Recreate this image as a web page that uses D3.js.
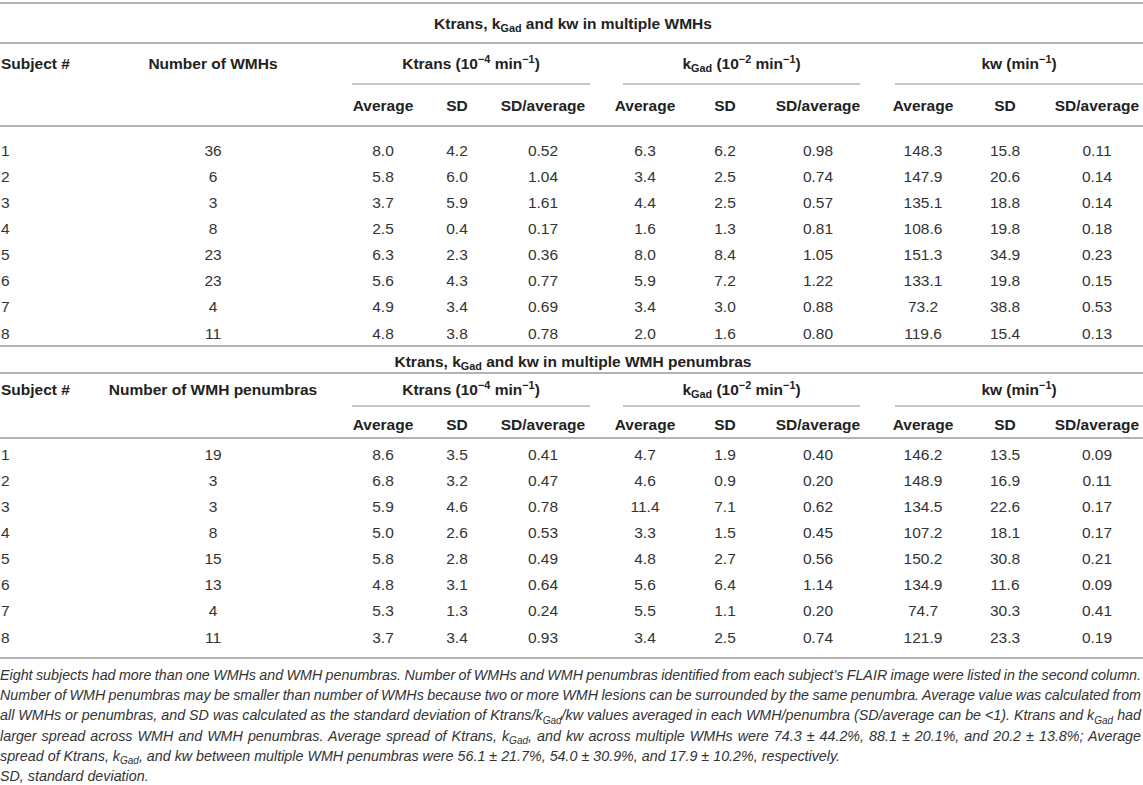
<!DOCTYPE html>
<html>
<head>
<meta charset="utf-8">
<script src="https://d3js.org/d3.v7.min.js"></script>
<style>
  html, body { margin: 0; padding: 0; background: #fff; }
  svg { display: block; font-family: "Liberation Sans", Arial, sans-serif; }
</style>
</head>
<body>
<svg id="chart" width="1143" height="785"></svg>
<script>
// ---- data: multiple WMHs ----
const subjects = [1, 2, 3, 4, 5, 6, 7, 8];
const wmh_count = [36, 6, 3, 8, 23, 23, 4, 11];
const wmh_ktrans_avg = [8.0, 5.8, 3.7, 2.5, 6.3, 5.6, 4.9, 4.8];
const wmh_ktrans_sd = [4.2, 6.0, 5.9, 0.4, 2.3, 4.3, 3.4, 3.8];
const wmh_ktrans_ratio = [0.52, 1.04, 1.61, 0.17, 0.36, 0.77, 0.69, 0.78];
const wmh_kgad_avg = [6.3, 3.4, 4.4, 1.6, 8.0, 5.9, 3.4, 2.0];
const wmh_kgad_sd = [6.2, 2.5, 2.5, 1.3, 8.4, 7.2, 3.0, 1.6];
const wmh_kgad_ratio = [0.98, 0.74, 0.57, 0.81, 1.05, 1.22, 0.88, 0.80];
const wmh_kw_avg = [148.3, 147.9, 135.1, 108.6, 151.3, 133.1, 73.2, 119.6];
const wmh_kw_sd = [15.8, 20.6, 18.8, 19.8, 34.9, 19.8, 38.8, 15.4];
const wmh_kw_ratio = [0.11, 0.14, 0.14, 0.18, 0.23, 0.15, 0.53, 0.13];

// ---- data: multiple WMH penumbras ----
const pen_count = [19, 3, 3, 8, 15, 13, 4, 11];
const pen_ktrans_avg = [8.6, 6.8, 5.9, 5.0, 5.8, 4.8, 5.3, 3.7];
const pen_ktrans_sd = [3.5, 3.2, 4.6, 2.6, 2.8, 3.1, 1.3, 3.4];
const pen_ktrans_ratio = [0.41, 0.47, 0.78, 0.53, 0.49, 0.64, 0.24, 0.93];
const pen_kgad_avg = [4.7, 4.6, 11.4, 3.3, 4.8, 5.6, 5.5, 3.4];
const pen_kgad_sd = [1.9, 0.9, 7.1, 1.5, 2.7, 6.4, 1.1, 2.5];
const pen_kgad_ratio = [0.40, 0.20, 0.62, 0.45, 0.56, 1.14, 0.20, 0.74];
const pen_kw_avg = [146.2, 148.9, 134.5, 107.2, 150.2, 134.9, 74.7, 121.9];
const pen_kw_sd = [13.5, 16.9, 22.6, 18.1, 30.8, 11.6, 30.3, 23.3];
const pen_kw_ratio = [0.09, 0.11, 0.17, 0.17, 0.21, 0.09, 0.41, 0.19];

// ---- labels ----
const group_labels = ["Ktrans (10^{−4} min^{−1})", "k_{Gad} (10^{−2} min^{−1})", "kw (min^{−1})"];
const sub_labels = ["Average", "SD", "SD/average"];
const footnote_lines = [
    "Eight subjects had more than one WMHs and WMH penumbras. Number of WMHs and WMH penumbras identified from each subject’s FLAIR image were listed in the second column.",
    "Number of WMH penumbras may be smaller than number of WMHs because two or more WMH lesions can be surrounded by the same penumbra. Average value was calculated from",
    "all WMHs or penumbras, and SD was calculated as the standard deviation of Ktrans/k_{Gad}/kw values averaged in each WMH/penumbra (SD/average can be <1). Ktrans and k_{Gad} had",
    "larger spread across WMH and WMH penumbras. Average spread of Ktrans, k_{Gad}, and kw across multiple WMHs were 74.3 ± 44.2%, 88.1 ± 20.1%, and 20.2 ± 13.8%; Average",
    "spread of Ktrans, k_{Gad}, and kw between multiple WMH penumbras were 56.1 ± 21.7%, 54.0 ± 30.9%, and 17.9 ± 10.2%, respectively.",
    "SD, standard deviation."
];

const width = 1143;
const svg = d3.select("#chart");
const rule_color = "#b3b3b3";
const text_color = "#222";
const fs = 15.5;

// column layout
const col_x = [383, 457, 543, 645, 725, 818, 923, 1005, 1097];
const groups = [[352, 590], [623, 860], [895, 1143]];
const fmt1 = d3.format(".1f");
const fmt2 = d3.format(".2f");

// writes text with _{sub} and ^{sup} pieces as tspans
function rich_text(sel, str, size) {
    const parts = str.split(/(_\{[^}]*\}|\^\{[^}]*\})/).filter(p => p.length);
    let shift = 0;
    parts.forEach(p => {
        let dy = 0, t = p, f = size;
        if (p.startsWith("_{")) { t = p.slice(2, -1); dy = size * 0.25; f = size * 0.7; }
        else if (p.startsWith("^{")) { t = p.slice(2, -1); dy = -size * 0.38; f = size * 0.7; }
        sel.append("tspan")
            .attr("dy", dy - shift)
            .attr("font-size", f)
            .text(t);
        shift = dy;
    });
}

function hline(y, x1, x2, w) {
    svg.append("line")
        .attr("x1", x1).attr("x2", x2)
        .attr("y1", y).attr("y2", y)
        .attr("stroke", rule_color)
        .attr("stroke-width", w);
}

function draw_table(cfg) {
    hline(cfg.top, 0, width, 2);
    svg.append("text")
        .attr("x", 573).attr("y", cfg.title_y + 5.5)
        .attr("text-anchor", "middle")
        .attr("font-weight", "bold").attr("font-size", fs)
        .attr("fill", text_color)
        .call(s => rich_text(s, cfg.title, fs));
    hline(cfg.title_line, 0, width, 2);

    // header row 1
    const head = svg.append("g")
        .attr("font-weight", "bold").attr("font-size", fs).attr("fill", text_color);
    head.append("text").attr("x", 1).attr("y", cfg.head_y + 5.5).text("Subject #");
    head.append("text").attr("x", 213).attr("y", cfg.head_y + 5.5)
        .attr("text-anchor", "middle").text(cfg.count_label);
    groups.forEach((g, i) => {
        head.append("text")
            .attr("x", (g[0] + g[1]) / 2).attr("y", cfg.head_y + 5.5)
            .attr("text-anchor", "middle")
            .call(s => rich_text(s, group_labels[i], fs));
        hline(cfg.under_y, g[0], g[1], 1.5);
    });
    // header row 2
    head.selectAll("text.sub")
        .data(col_x)
        .enter()
        .append("text")
        .attr("class", "sub")
        .attr("x", d => d)
        .attr("y", cfg.sub_y + 5.5)
        .attr("text-anchor", "middle")
        .text((d, i) => sub_labels[i % 3]);
    hline(cfg.head_line, 0, width, 2);

    // body rows
    const y = d3.scaleLinear().domain([0, 7]).range([cfg.row0, cfg.row7]);
    const body = svg.append("g").attr("font-size", fs).attr("fill", "#333");
    const rows = body.selectAll("g.row")
        .data(subjects)
        .enter()
        .append("g")
        .attr("class", "row")
        .attr("transform", (d, i) => `translate(0,${y(i) + 5.5})`);
    rows.append("text").attr("x", 1).text(d => d);
    rows.append("text").attr("x", 213).attr("text-anchor", "middle").text((d, i) => cfg.count[i]);
    cfg.cols.forEach((arr, c) => {
        rows.append("text")
            .attr("x", col_x[c])
            .attr("text-anchor", "middle")
            .text((d, i) => (c % 3 === 2 ? fmt2 : fmt1)(arr[i]));
    });
}

draw_table({
    top: 3, title_y: 23, title_line: 43,
    title: "Ktrans, k_{Gad} and kw in multiple WMHs",
    head_y: 63, under_y: 84, sub_y: 105, head_line: 126,
    row0: 150, row7: 333,
    count_label: "Number of WMHs",
    count: wmh_count,
    cols: [wmh_ktrans_avg, wmh_ktrans_sd, wmh_ktrans_ratio,
           wmh_kgad_avg, wmh_kgad_sd, wmh_kgad_ratio,
           wmh_kw_avg, wmh_kw_sd, wmh_kw_ratio]
});

draw_table({
    top: 346, title_y: 361, title_line: 373,
    title: "Ktrans, k_{Gad} and kw in multiple WMH penumbras",
    head_y: 389, under_y: 406, sub_y: 424, head_line: 438,
    row0: 454, row7: 637,
    count_label: "Number of WMH penumbras",
    count: pen_count,
    cols: [pen_ktrans_avg, pen_ktrans_sd, pen_ktrans_ratio,
           pen_kgad_avg, pen_kgad_sd, pen_kgad_ratio,
           pen_kw_avg, pen_kw_sd, pen_kw_ratio]
});

hline(658, 0, width, 2);

// footnote, first four lines justified
const ffs = 14.3;
const foot = svg.append("g")
    .attr("font-style", "italic").attr("font-size", ffs).attr("fill", "#333");
footnote_lines.forEach((line, i) => {
    const t = foot.append("text")
        .attr("x", 0)
        .attr("y", 675 + i * 20.2 + 5)
        .call(s => rich_text(s, line, ffs));
    if (i < 4) {
        const natural = t.node().getComputedTextLength();
        const spaces = (line.match(/ /g) || []).length;
        t.attr("word-spacing", (1141 - natural) / spaces);
    }
});
</script>
</body>
</html>
